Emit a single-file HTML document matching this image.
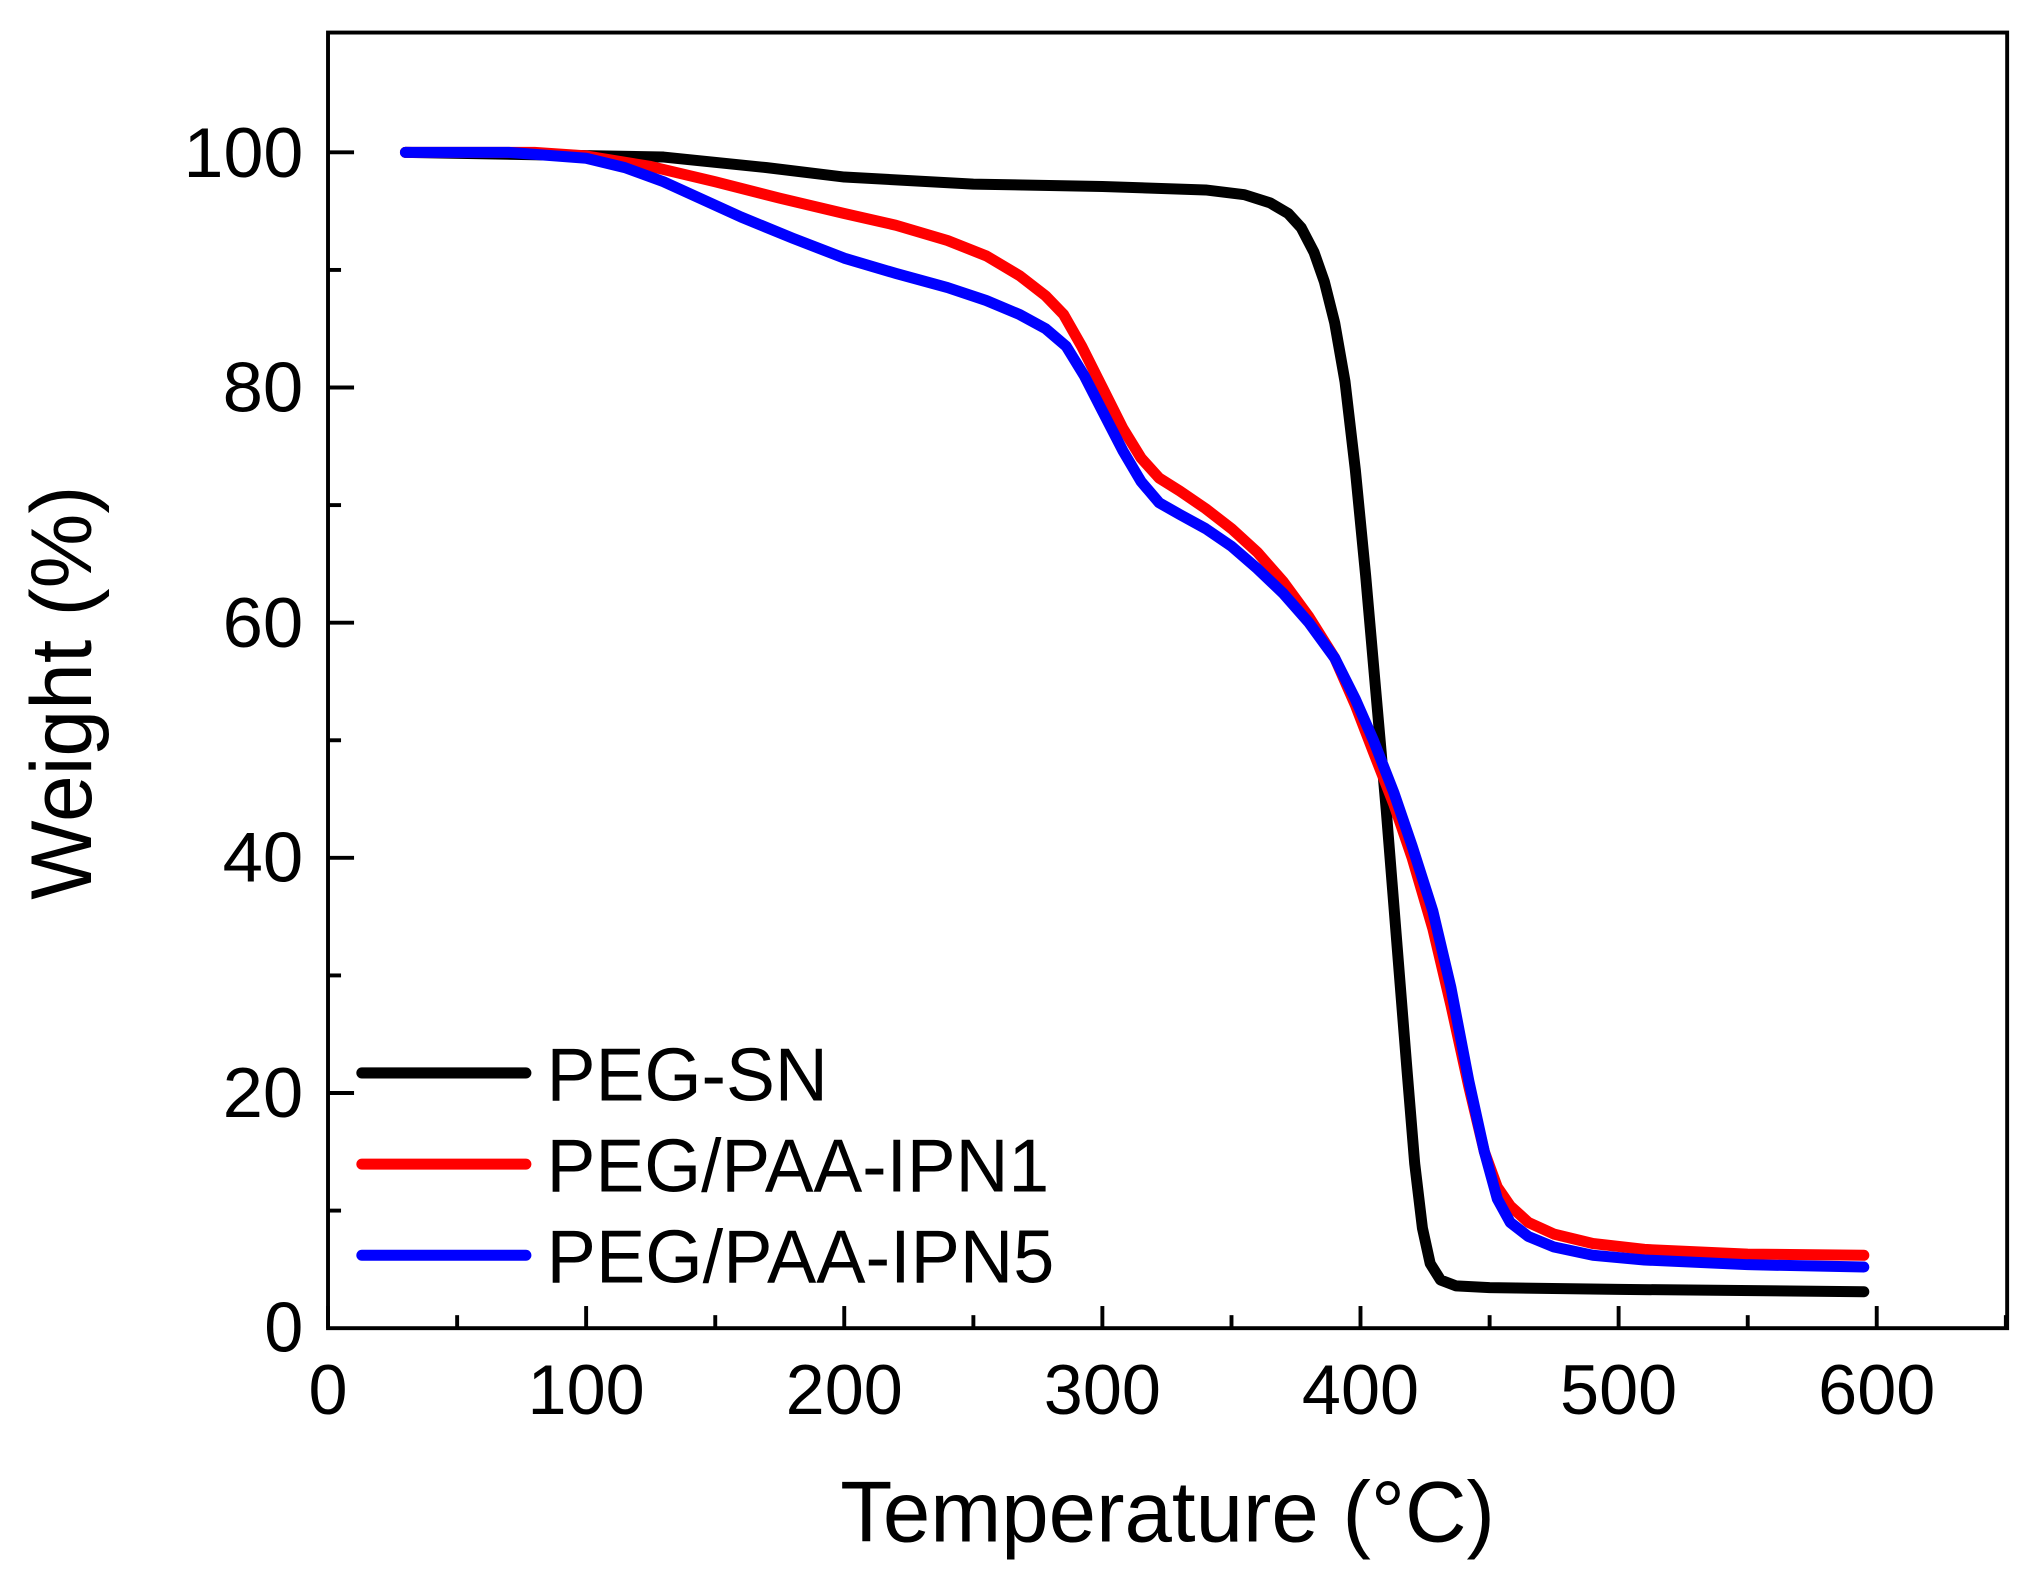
<!DOCTYPE html>
<html><head><meta charset="utf-8"><style>
html,body{margin:0;padding:0;background:#fff;}
svg{display:block;}
text{font-family:"Liberation Sans",sans-serif;fill:#000;}
</style></head><body>
<svg width="2041" height="1586" viewBox="0 0 1568 1218" preserveAspectRatio="none" xmlns="http://www.w3.org/2000/svg">
<rect x="0" y="0" width="1568" height="1218" fill="#fff"/>
<rect x="252" y="25" width="1290" height="995" fill="none" stroke="#000" stroke-width="3"/>
<g stroke="#000" stroke-width="3">
<line x1="252" y1="1020" x2="252" y2="1003"/>
<line x1="450.3" y1="1020" x2="450.3" y2="1003"/>
<line x1="648.6" y1="1020" x2="648.6" y2="1003"/>
<line x1="846.9" y1="1020" x2="846.9" y2="1003"/>
<line x1="1045.2" y1="1020" x2="1045.2" y2="1003"/>
<line x1="1243.5" y1="1020" x2="1243.5" y2="1003"/>
<line x1="1441.8" y1="1020" x2="1441.8" y2="1003"/>
<line x1="351.2" y1="1020" x2="351.2" y2="1010"/>
<line x1="549.5" y1="1020" x2="549.5" y2="1010"/>
<line x1="747.8" y1="1020" x2="747.8" y2="1010"/>
<line x1="946.1" y1="1020" x2="946.1" y2="1010"/>
<line x1="1144.4" y1="1020" x2="1144.4" y2="1010"/>
<line x1="1342.7" y1="1020" x2="1342.7" y2="1010"/>
<line x1="1541" y1="1020" x2="1541" y2="1010"/>
<line x1="252" y1="117" x2="272" y2="117"/>
<line x1="252" y1="297.6" x2="272" y2="297.6"/>
<line x1="252" y1="478.2" x2="272" y2="478.2"/>
<line x1="252" y1="658.8" x2="272" y2="658.8"/>
<line x1="252" y1="839.4" x2="272" y2="839.4"/>
<line x1="252" y1="207.3" x2="262" y2="207.3"/>
<line x1="252" y1="387.9" x2="262" y2="387.9"/>
<line x1="252" y1="568.5" x2="262" y2="568.5"/>
<line x1="252" y1="749.1" x2="262" y2="749.1"/>
<line x1="252" y1="929.7" x2="262" y2="929.7"/>
</g>
<g font-size="54" text-anchor="end">
<text x="233" y="1038" textLength="30" lengthAdjust="spacingAndGlyphs">0</text>
<text x="233" y="858" textLength="62" lengthAdjust="spacingAndGlyphs">20</text>
<text x="233" y="677" textLength="62" lengthAdjust="spacingAndGlyphs">40</text>
<text x="233" y="497" textLength="62" lengthAdjust="spacingAndGlyphs">60</text>
<text x="233" y="316" textLength="62" lengthAdjust="spacingAndGlyphs">80</text>
<text x="233" y="136" textLength="92" lengthAdjust="spacingAndGlyphs">100</text>
</g>
<g font-size="54" text-anchor="middle">
<text x="252" y="1086" textLength="30" lengthAdjust="spacingAndGlyphs">0</text>
<text x="450.3" y="1086" textLength="90" lengthAdjust="spacingAndGlyphs">100</text>
<text x="648.6" y="1086" textLength="90" lengthAdjust="spacingAndGlyphs">200</text>
<text x="846.9" y="1086" textLength="90" lengthAdjust="spacingAndGlyphs">300</text>
<text x="1045.2" y="1086" textLength="90" lengthAdjust="spacingAndGlyphs">400</text>
<text x="1243.5" y="1086" textLength="90" lengthAdjust="spacingAndGlyphs">500</text>
<text x="1441.8" y="1086" textLength="90" lengthAdjust="spacingAndGlyphs">600</text>
</g>
<text x="897" y="1184" font-size="66" text-anchor="middle" textLength="503" lengthAdjust="spacingAndGlyphs">Temperature (°C)</text>
<text transform="translate(70,532) rotate(-90)" font-size="66" text-anchor="middle" textLength="318" lengthAdjust="spacingAndGlyphs">Weight (%)</text>

<g transform="translate(252,1020) scale(1.983,-9.03)" fill="none" stroke-linejoin="round" stroke-linecap="round">
<polyline vector-effect="non-scaling-stroke" stroke="#000" stroke-width="11" points="30,100 80,99.8 130,99.6 170,98.7 200,97.9 250,97.3 300,97.1 340,96.8 355,96.4 365,95.7 372,94.8 377,93.6 382,91.5 386,89 390,85.5 394,80.5 398,73 402,64 406,54 410,44 414,33 418,22 421,14 424,8.5 427,5.5 431,4.1 437,3.6 450,3.45 500,3.3 595,3.1"/>
<polyline vector-effect="non-scaling-stroke" stroke="#ff0000" stroke-width="11" points="30,100 80,100 100,99.7 125,98.8 150,97.5 175,96.1 200,94.8 220,93.8 240,92.5 255,91.2 268,89.5 278,87.8 285,86.2 292,83.5 300,80 308,76.5 315,74 322,72.3 330,71.2 340,69.7 350,68 360,66 370,63.5 380,60.5 390,57 398,53 405,49 413,44.5 420,40 428,34 435,27.5 442,20.5 448,15 453,12 458,10.4 465,9 475,8 490,7.2 510,6.7 550,6.3 595,6.2"/>
<polyline vector-effect="non-scaling-stroke" stroke="#0000ff" stroke-width="11" points="30,100 70,100 100,99.5 115,98.7 130,97.5 145,96 160,94.5 180,92.7 200,91 220,89.7 240,88.5 255,87.4 268,86.2 278,85 286,83.5 293,81 300,78 308,74.6 315,72 322,70.2 330,69.2 340,68 350,66.5 360,64.6 370,62.5 380,60 390,57 398,53.5 405,50 413,45.5 420,41 428,35.5 435,29 442,21 448,15 453,11 458,9 465,7.8 475,6.9 490,6.2 510,5.8 550,5.4 595,5.2"/>
</g>

<g stroke-width="8.5" stroke-linecap="round">
<line x1="278" y1="824" x2="404" y2="824" stroke="#000"/>
<line x1="278" y1="894" x2="404" y2="894" stroke="#ff0000"/>
<line x1="278" y1="964" x2="404" y2="964" stroke="#0000ff"/>
</g>
<g font-size="58">
<text x="420" y="845" textLength="216" lengthAdjust="spacingAndGlyphs">PEG-SN</text>
<text x="420" y="915" textLength="386" lengthAdjust="spacingAndGlyphs">PEG/PAA-IPN1</text>
<text x="420" y="985" textLength="390" lengthAdjust="spacingAndGlyphs">PEG/PAA-IPN5</text>
</g>
</svg>
</body></html>
